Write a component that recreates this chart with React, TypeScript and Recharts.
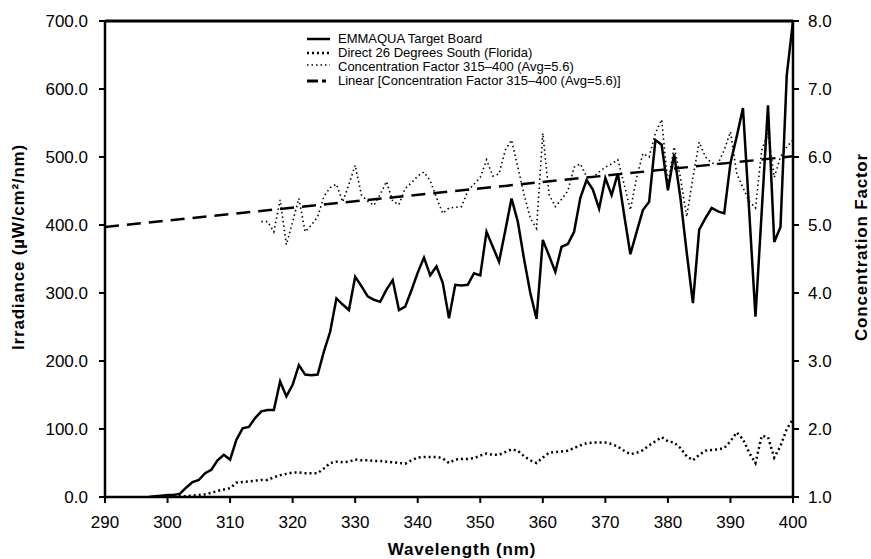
import { ComposedChart, Line, XAxis, YAxis, ReferenceLine } from "recharts";

const FONT = "'Liberation Sans', Arial, Helvetica, sans-serif";

// x categories
const WL_MIN = 290;
const WL_MAX = 400;
const wavelengthTicks = [290, 300, 310, 320, 330, 340, 350, 360, 370, 380, 390, 400];
const irradianceTicks = [0, 100, 200, 300, 400, 500, 600, 700];
const factorTicks = [1, 2, 3, 4, 5, 6, 7, 8];

// EMMAQUA Target Board, 297..400 nm (µW/cm²/nm)
const EMMAQUA_START = 297;
const emmaqua = [
  0, 1, 2, 3, 3, 5, 14, 22, 25, 35,
  40, 54, 62, 55, 84, 101, 103, 116, 126, 128,
  128, 170, 148, 165, 194, 180, 179, 180, 214, 243,
  292, 283, 275, 324, 310, 295, 290, 287, 305, 319,
  275, 280, 304, 330, 352, 326, 339, 315, 263, 312,
  311, 312, 329, 326, 390, 368, 346, 392, 439, 405,
  350, 300, 262, 378, 355, 331, 368, 372, 390, 440,
  466, 452, 424, 469, 444, 476, 415, 357, 390, 422,
  434, 525, 518, 451, 504, 440, 360, 285, 393, 410,
  425, 420, 417, 491, 530, 572, 420, 265, 420, 576,
  375, 397, 620, 700,
];

// Direct 26 Degrees South (Florida), 301..400 nm
const DIRECT_START = 301;
const direct = [
  0, 1, 1, 2, 3, 4, 6, 9, 11, 13,
  21, 22, 23, 24, 25, 25, 29, 32, 34, 36,
  36, 35, 35, 35, 42, 50, 52, 51, 52, 55,
  54, 54, 53, 53, 52, 51, 50, 49, 54, 58,
  59, 59, 59, 57, 50, 55, 56, 56, 57, 61,
  64, 62, 62, 66, 70, 68, 60, 54, 50, 58,
  65, 66, 67, 68, 72, 76, 79, 80, 80, 80,
  78, 74, 68, 63, 65, 69, 76, 82, 88, 82,
  80, 72, 60, 54, 62, 68, 69, 70, 72, 82,
  95, 85, 65, 50, 90, 88, 58, 75, 100, 115,
];

// Concentration Factor 315-400 (Avg=5.6)
const FACTOR_START = 315;
const factor = [
  5.05, 5.05, 4.9, 5.37, 4.71, 5.05, 5.39, 4.9, 5.0, 5.12,
  5.42, 5.55, 5.6, 5.34, 5.6, 5.88, 5.44, 5.35, 5.29, 5.45,
  5.64, 5.35, 5.3, 5.54, 5.62, 5.72, 5.78, 5.65, 5.4, 5.17,
  5.25, 5.26, 5.27, 5.5, 5.6, 5.7, 5.96, 5.72, 5.75, 6.1,
  6.25, 5.85, 5.45, 5.1, 4.95, 6.35, 5.45, 5.27, 5.38, 5.5,
  5.85, 5.9, 5.71, 5.7, 5.78, 5.85, 5.9, 5.96, 5.6, 5.22,
  5.7, 6.05, 6.0, 6.35, 6.55, 5.6, 6.15, 5.7, 5.12, 5.7,
  6.22, 6.0, 5.91, 5.9, 6.1, 6.37, 5.76, 5.55, 5.35, 5.25,
  6.1, 6.35, 5.7, 6.0, 6.15, 6.25,
];

// Linear trend of the concentration factor (end points)
const trendWl = [290, 400];
const trendValue = [4.97, 6.01];

const legendNames = [
  "EMMAQUA Target Board",
  "Direct 26 Degrees South (Florida)",
  "Concentration Factor 315\u2013400 (Avg=5.6)",
  "Linear [Concentration Factor 315\u2013400 (Avg=5.6)]",
];

const pick = (arr: number[], start: number, wl: number) => {
  const v = arr[wl - start];
  return v === undefined ? null : v;
};

const rows: any[] = [];
for (let wl = WL_MIN; wl <= WL_MAX; wl++) {
  const ti = trendWl.indexOf(wl);
  rows.push({
    wl,
    emmaqua: pick(emmaqua, EMMAQUA_START, wl),
    direct: pick(direct, DIRECT_START, wl),
    factor: pick(factor, FACTOR_START, wl),
    linear: ti >= 0 ? trendValue[ti] : null,
  });
}

const tickStyle = { fill: "#000", fontSize: 17, fontFamily: FONT };
const titleStyle: any = { fill: "#000", fontSize: 17, fontWeight: "bold", fontFamily: FONT, letterSpacing: 0.8 };

const legendIcon = (i: number) => {
  if (i === 0) return <line x1={2} y1={7} x2={25} y2={7} stroke="#000" strokeWidth={2.5} />;
  if (i === 1) return <line x1={2} y1={7} x2={25} y2={7} stroke="#000" strokeWidth={2.5} strokeDasharray="2 3" />;
  if (i === 2) return <line x1={2} y1={5} x2={25} y2={5} stroke="#000" strokeWidth={1.5} strokeDasharray="1.5 3" />;
  return (
    <g>
      <line x1={2} y1={7} x2={13} y2={7} stroke="#000" strokeWidth={3} />
      <line x1={17} y1={7} x2={21} y2={7} stroke="#000" strokeWidth={3} />
    </g>
  );
};

function ChartLegend() {
  return (
    <div
      style={{
        position: "absolute",
        left: 305,
        top: 32,
        fontFamily: FONT,
        fontSize: 13,
        color: "#000",
        lineHeight: "14px",
      }}
    >
      {legendNames.map((name, i) => (
        <div key={name} style={{ display: "flex", alignItems: "center", height: 14 }}>
          <svg width={33} height={14} style={{ flex: "none" }}>
            {legendIcon(i)}
          </svg>
          <span style={{ whiteSpace: "nowrap" }}>{name}</span>
        </div>
      ))}
    </div>
  );
}

export default function App() {
  return (
    <div style={{ position: "absolute", left: 0, top: 0, width: 871, height: 559, background: "#fff" }}>
      <ComposedChart width={871} height={559} data={rows} margin={{ top: 21, right: 18, bottom: 22, left: 45 }}>
        <XAxis
          dataKey="wl"
          type="number"
          domain={[WL_MIN, WL_MAX]}
          ticks={wavelengthTicks}
          height={40}
          axisLine={{ stroke: "#000", strokeWidth: 2.5 }}
          tickLine={{ stroke: "#000", strokeWidth: 2 }}
          tickSize={6}
          tickMargin={13}
          tick={tickStyle}
          label={() => (
            <text x={462} y={549} textAnchor="middle" dominantBaseline="central" style={titleStyle}>
              Wavelength (nm)
            </text>
          )}
        />
        <YAxis
          yAxisId="left"
          domain={[0, 700]}
          ticks={irradianceTicks}
          width={60}
          allowDataOverflow
          axisLine={{ stroke: "#000", strokeWidth: 2.5 }}
          tickLine={{ stroke: "#000", strokeWidth: 2 }}
          tickSize={6}
          tickMargin={11}
          tick={tickStyle}
          tickFormatter={(v: number) => v.toFixed(1)}
          label={() => (
            <text
              x={18}
              y={247}
              transform="rotate(-90 18 247)"
              textAnchor="middle"
              dominantBaseline="central"
              style={titleStyle}
            >
              Irradiance (µW/cm²/nm)
            </text>
          )}
        />
        <YAxis
          yAxisId="right"
          orientation="right"
          domain={[1, 8]}
          ticks={factorTicks}
          width={60}
          allowDataOverflow
          axisLine={{ stroke: "#000", strokeWidth: 2.5 }}
          tickLine={{ stroke: "#000", strokeWidth: 2 }}
          tickSize={6}
          tickMargin={9}
          tick={tickStyle}
          tickFormatter={(v: number) => v.toFixed(1)}
          label={() => (
            <text
              x={861}
              y={247}
              transform="rotate(-90 861 247)"
              textAnchor="middle"
              dominantBaseline="central"
              style={titleStyle}
            >
              Concentration Factor
            </text>
          )}
        />
        <ReferenceLine yAxisId="left" y={700} stroke="#000" strokeWidth={3} />
        <Line
          yAxisId="right"
          dataKey="factor"
          type="linear"
          stroke="#000"
          strokeWidth={1.6}
          strokeDasharray="1.5 3"
          dot={false}
          activeDot={false}
          isAnimationActive={false}
        />
        <Line
          yAxisId="right"
          dataKey="linear"
          type="linear"
          stroke="#000"
          strokeWidth={2.5}
          strokeDasharray="14 8"
          connectNulls
          dot={false}
          activeDot={false}
          isAnimationActive={false}
        />
        <Line
          yAxisId="left"
          dataKey="direct"
          type="linear"
          stroke="#000"
          strokeWidth={2.5}
          strokeDasharray="2 3"
          dot={false}
          activeDot={false}
          isAnimationActive={false}
        />
        <Line
          yAxisId="left"
          dataKey="emmaqua"
          type="linear"
          stroke="#000"
          strokeWidth={2.5}
          dot={false}
          activeDot={false}
          isAnimationActive={false}
        />
      </ComposedChart>
      <ChartLegend />
    </div>
  );
}
